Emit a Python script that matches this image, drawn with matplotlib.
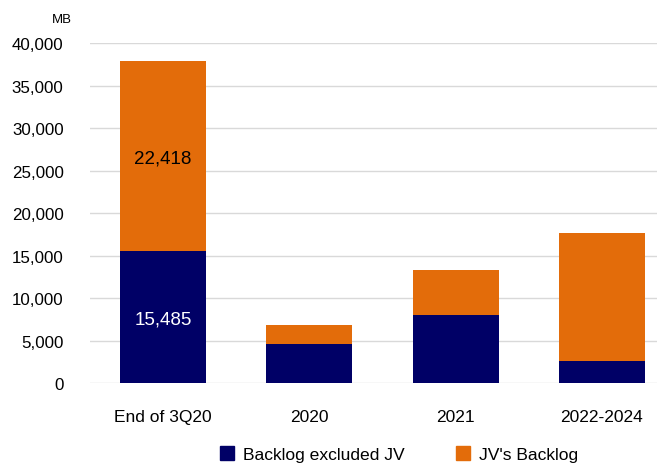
import matplotlib
matplotlib.use("Agg")
import matplotlib.pyplot as plt
from matplotlib.patches import Patch

categories = ["End of 3Q20", "2020", "2021", "2022-2024"]
backlog_excl_jv = [15485, 4630, 8050, 2560]
jv_backlog = [22418, 2210, 5240, 15130]
y_ticks = [0, 5000, 10000, 15000, 20000, 25000, 30000, 35000, 40000]

navy = "#000066"
orange = "#E36C0A"

plt.rcParams['font.family'] = ['Liberation Sans', 'DejaVu Sans']

fig = plt.figure(figsize=(6.64, 4.64), dpi=100)
ax = fig.add_axes([90/664, 1-384/464, (657-90)/664, (384-44.3)/464])

x = list(range(len(categories)))
w = 0.588
ax.bar(x, backlog_excl_jv, width=w, color=navy, zorder=3)
ax.bar(x, jv_backlog, width=w, bottom=backlog_excl_jv, color=orange, zorder=3)

# labels on first bar
ax.text(0, backlog_excl_jv[0]/2 - 200, f"{backlog_excl_jv[0]:,}", ha="center", va="center",
        color="white", fontsize=13.5, zorder=4)
ax.text(0, backlog_excl_jv[0] + jv_backlog[0]/2 - 200, f"{jv_backlog[0]:,}", ha="center", va="center",
        color="black", fontsize=13.5, zorder=4)

ax.set_ylim(0, 40000)
ax.set_xlim(-0.5, 3.377)
ax.set_yticks(y_ticks)
ax.set_yticklabels([f"{v:,}" for v in y_ticks], fontsize=12.2)
ax.set_xticks(x)
ax.set_xticklabels(categories, fontsize=12.5)
ax.tick_params(axis="both", length=0)
ax.tick_params(axis="x", pad=19)
ax.tick_params(axis="y", pad=19)
ax.yaxis.grid(True, color="#d9d9d9", linewidth=1, zorder=0)
for s in ax.spines.values():
    s.set_visible(False)

fig.text(52/664, 1-20/464, "MB", fontsize=9.5, ha="left", va="center")

handles = [Patch(color=navy, label="Backlog excluded JV"), Patch(color=orange, label="JV's Backlog")]
fig.legend(handles=handles, loc="center", bbox_to_anchor=(399/664, 1-455/464), ncol=2,
           frameon=False, fontsize=12.6, handlelength=0.8, handleheight=0.8,
           columnspacing=2.95, handletextpad=0.5)

fig.savefig("out.png", dpi=100)
